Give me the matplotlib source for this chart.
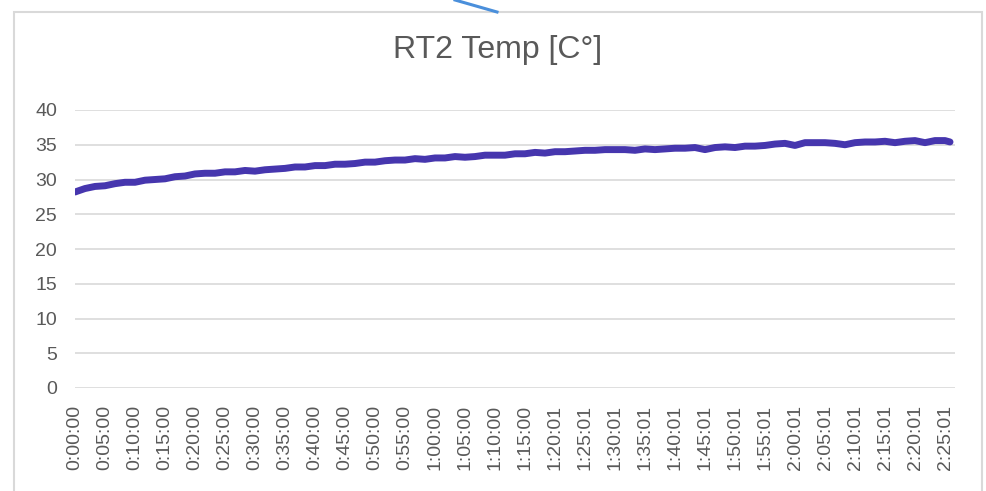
import matplotlib.pyplot as plt
from matplotlib.lines import Line2D
from matplotlib.patches import Rectangle
import numpy as np

# elapsed seconds and temperature (every 100 s)
elapsed_s = list(range(0, 8800, 100)) + [8750]
temp_c = [
    28.2, 28.7, 29.0, 29.1, 29.4, 29.6, 29.6, 29.9, 30.0, 30.1,
    30.4, 30.5, 30.8, 30.9, 30.9, 31.1, 31.1, 31.3, 31.2, 31.4,
    31.5, 31.6, 31.8, 31.8, 32.0, 32.0, 32.2, 32.2, 32.3, 32.5,
    32.5, 32.7, 32.8, 32.8, 33.0, 32.9, 33.1, 33.1, 33.3, 33.2,
    33.3, 33.5, 33.5, 33.5, 33.7, 33.7, 33.9, 33.8, 34.0, 34.0,
    34.1, 34.2, 34.2, 34.3, 34.3, 34.3, 34.2, 34.4, 34.3, 34.4,
    34.5, 34.5, 34.6, 34.3, 34.6, 34.7, 34.6, 34.8, 34.8, 34.9,
    35.1, 35.2, 34.9, 35.3, 35.3, 35.3, 35.2, 35.0, 35.3, 35.4,
    35.4, 35.5, 35.3, 35.5, 35.6, 35.3, 35.6, 35.6, 35.4,
]
elapsed_s = elapsed_s[:len(temp_c)]

tick_labels = [
    "0:00:00", "0:05:00", "0:10:00", "0:15:00", "0:20:00", "0:25:00",
    "0:30:00", "0:35:00", "0:40:00", "0:45:00", "0:50:00", "0:55:00",
    "1:00:00", "1:05:00", "1:10:00", "1:15:00", "1:20:01", "1:25:01",
    "1:30:01", "1:35:01", "1:40:01", "1:45:01", "1:50:01", "1:55:01",
    "2:00:01", "2:05:01", "2:10:01", "2:15:01", "2:20:01", "2:25:01",
]
y_ticks = [0, 5, 10, 15, 20, 25, 30, 35, 40]


def to_seconds(s):
    h, m, sec = s.split(":")
    return int(h) * 3600 + int(m) * 60 + int(sec)


tick_pos = [to_seconds(s) for s in tick_labels]

plt.rcParams['font.family'] = ['Liberation Sans', 'DejaVu Sans']

fig = plt.figure(figsize=(9.87, 4.91), dpi=100)
fig.patch.set_facecolor('white')

# chart frame
fig.add_artist(Rectangle((14 / 987, -0.01), 968 / 987, 1 - 12 / 491 + 0.01,
                         transform=fig.transFigure, fill=False,
                         edgecolor='#d9d9d9', linewidth=1.5))
# stray connector line at the top of the screenshot
fig.add_artist(Line2D([455 / 987, 497 / 987], [1.0, 1 - 12 / 491],
                      transform=fig.transFigure, color='#4a8fdb', linewidth=2.2))

ax = fig.add_axes([75 / 987, 1 - 388 / 491, 880 / 987, 278 / 491])
ax.plot(elapsed_s, temp_c, color='#4636ae', linewidth=5,
        solid_joinstyle='round', solid_capstyle='round')

ax.set_xlim(0, 8800)
ax.set_ylim(0, 40)
ax.set_yticks(y_ticks)
ax.set_xticks(tick_pos)
ax.set_xticklabels(tick_labels, rotation=90)
ax.grid(axis='y', color='#d9d9d9', linewidth=1.2)
ax.set_axisbelow(True)
for sp in ax.spines.values():
    sp.set_visible(False)
ax.tick_params(axis='both', length=0, colors='#595959')
ax.tick_params(axis='y', pad=13, labelsize=14)
ax.tick_params(axis='x', pad=12, labelsize=14)

fig.text(498 / 987, 1 - 50 / 491, "RT2 Temp [C°]", ha='center', va='center',
         fontsize=23, color='#595959')

fig.savefig('out.png', dpi=100)
